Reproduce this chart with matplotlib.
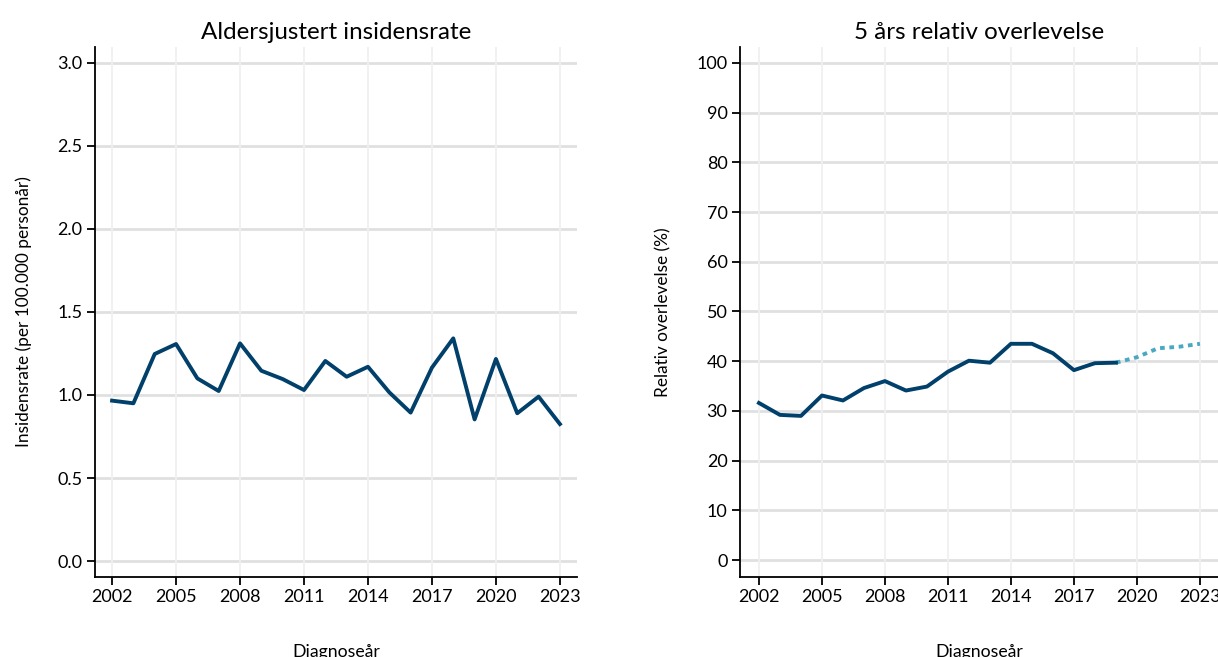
import matplotlib
matplotlib.use('Agg')
import matplotlib.pyplot as plt

plt.rcParams['font.family'] = ['Lato', 'DejaVu Sans']

# Data
years = list(range(2002, 2024))
incidence = [0.966, 0.950, 1.247, 1.307, 1.100, 1.024, 1.311, 1.146, 1.096, 1.030, 1.205,
             1.110, 1.170, 1.016, 0.894, 1.165, 1.341, 0.853, 1.217, 0.890, 0.990, 0.825]

surv_years = list(range(2002, 2020))
survival = [31.6, 29.2, 29.0, 33.1, 32.1, 34.6, 36.0, 34.1, 34.9, 37.9, 40.1, 39.7,
            43.5, 43.5, 41.6, 38.2, 39.6, 39.7]
pred_years = [2019, 2020, 2021, 2022, 2023]
pred_survival = [39.7, 40.8, 42.6, 42.9, 43.5]

xticks = list(range(2002, 2024, 3))
dark = '#00406b'
light = '#4aa8c2'

fig = plt.figure(figsize=(12.18, 6.57), dpi=100)
ax1 = fig.add_axes([0.078, 0.1218, 0.3957, 0.8067])
ax2 = fig.add_axes([0.6076, 0.1218, 0.3924, 0.8067])


def style(ax, yticks, ylabels):
    ax.set_xticks(xticks)
    ax.set_yticks(yticks)
    ax.set_yticklabels(ylabels)
    for s in ['top', 'right']:
        ax.spines[s].set_visible(False)
    for s in ['left', 'bottom']:
        ax.spines[s].set_linewidth(1.3)
    ax.tick_params(axis='both', length=6, width=1.3, labelsize=13, pad=3)
    for t in yticks:
        ax.axhline(t, color='#e0e0e0', lw=2, zorder=0)
    for t in xticks:
        ax.axvline(t, color='#f0f0f0', lw=1.3, zorder=0)
    ax.set_xlabel('Diagnoseår', fontsize=12.7, labelpad=28)


ax1.plot(years, incidence, color=dark, lw=2.8, zorder=3)
ax1.set_xlim(2001.2, 2023.8)
ax1.set_ylim(-0.096, 3.096)
style(ax1, [0, 0.5, 1.0, 1.5, 2.0, 2.5, 3.0], ['0.0', '0.5', '1.0', '1.5', '2.0', '2.5', '3.0'])
ax1.set_title('Aldersjustert insidensrate', fontsize=17.4, pad=6)
ax1.set_ylabel('Insidensrate (per 100.000 personår)', fontsize=12.4, labelpad=18)

ax2.plot(pred_years, pred_survival, color=light, lw=2.8, ls=(0, (1.2, 1.2)), zorder=3)
ax2.plot(surv_years, survival, color=dark, lw=2.8, zorder=4)
ax2.set_xlim(2001.1, 2023.86)
ax2.set_ylim(-3.4, 103.2)
yt = list(range(0, 101, 10))
style(ax2, yt, [str(v) for v in yt])
ax2.set_title('5 års relativ overlevelse', fontsize=17.4, pad=6)
ax2.set_ylabel('Relativ overlevelse (%)', fontsize=12.4, labelpad=18)

fig.savefig('out.png', dpi=100)
